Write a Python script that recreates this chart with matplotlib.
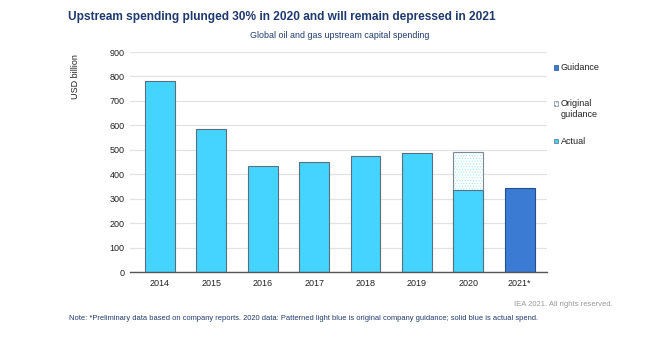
import matplotlib
matplotlib.use("Agg")
import matplotlib.pyplot as plt
from matplotlib.patches import Rectangle

plt.rcParams['font.family'] = ['Liberation Sans', 'DejaVu Sans']
plt.rcParams['hatch.linewidth'] = 0.4

# data (USD billion)
years = ['2014', '2015', '2016', '2017', '2018', '2019', '2020', '2021*']
actual = [780, 583, 433, 452, 476, 485, 335, None]
original_guidance = [None, None, None, None, None, None, 492, None]
guidance = [None, None, None, None, None, None, None, 343]

navy = '#1F3A6E'
cyan = '#44D4FF'
blue = '#3B7BD4'

fig = plt.figure(figsize=(6.69, 3.40), dpi=100)
ax = fig.add_axes([130 / 669, 1 - 272 / 340, (547 - 130) / 669, 220 / 340])

x = range(len(years))
bw = 0.58
for i in x:
    # original guidance drawn behind the actual spend
    if original_guidance[i] is not None:
        ax.bar(i, original_guidance[i], width=bw, color='white', edgecolor='#9FE6FF',
               hatch='......', linewidth=0, zorder=2)
        ax.bar(i, original_guidance[i], width=bw, fill=False, edgecolor='#7A8A99',
               linewidth=0.8, zorder=3)
    if actual[i] is not None:
        ax.bar(i, actual[i], width=bw, color=cyan, edgecolor='#5A6E7E', linewidth=0.8, zorder=3)
    if guidance[i] is not None:
        ax.bar(i, guidance[i], width=bw, color=blue, edgecolor='#24508F', linewidth=0.8, zorder=3)

ax.set_xlim(-0.58, 7.53)
ax.set_ylim(0, 900)
ax.set_yticks(range(0, 901, 100))
ax.set_xticks(list(x))
ax.set_xticklabels(years)
ax.tick_params(axis='both', length=0, labelsize=6.5, labelcolor='#222222')
ax.tick_params(axis='y', pad=4)
ax.tick_params(axis='x', pad=5)
ax.grid(axis='y', color='#E3E3E3', linewidth=0.9, zorder=0)
for s in ['top', 'right', 'left']:
    ax.spines[s].set_visible(False)
ax.spines['bottom'].set_color('#555555')
ax.spines['bottom'].set_linewidth(1)
ax.spines['bottom'].set_zorder(4)

fig.text(75 / 669, 1 - 54 / 340, 'USD billion', rotation=90, fontsize=6.5,
         color='#222222', ha='center', va='top')

# legend, drawn by hand to match the spacing of the original
legend_items = [
    ('Guidance', 67.5, blue, '#24508F', None),
    ('Original\nguidance', 103.5, 'white', '#7A8A99', '......'),
    ('Actual', 141, cyan, '#5A6E7E', None),
]
for label, ypx, fc, ec, hatch in legend_items:
    fig.add_artist(Rectangle((553.5 / 669, 1 - (ypx + 2) / 340), 4.5 / 669, 4.5 / 340,
                             facecolor=fc, edgecolor=ec, linewidth=0.5, hatch=hatch,
                             transform=fig.transFigure))
    fig.text(560.5 / 669, 1 - (ypx - 4.5) / 340, label, fontsize=6.5, color='#222222',
             ha='left', va='top', linespacing=1.25)

fig.text(68 / 669, 1 - 17 / 340,
         'Upstream spending plunged 30% in 2020 and will remain depressed in 2021',
         fontsize=8.6, fontweight='bold', color=navy, ha='left', va='center')
fig.text(340 / 669, 1 - 36 / 340, 'Global oil and gas upstream capital spending',
         fontsize=6.4, color=navy, ha='center', va='center')
fig.text(613 / 669, 1 - 305 / 340, 'IEA 2021. All rights reserved.',
         fontsize=5.5, color='#999999', ha='right', va='center')
fig.text(69 / 669, 1 - 318 / 340,
         'Note: *Preliminary data based on company reports. 2020 data: Patterned light blue is '
         'original company guidance; solid blue is actual spend.',
         fontsize=5.4, color=navy, ha='left', va='center')

fig.savefig('out.png', dpi=100)
